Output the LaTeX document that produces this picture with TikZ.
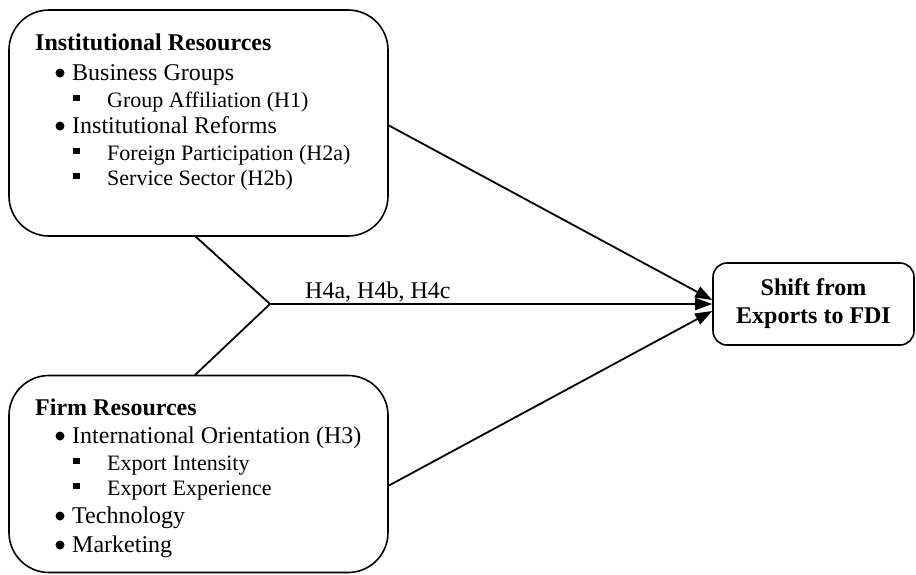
\documentclass[tikz,border=0pt]{standalone}
\usepackage{fontspec}
\setmainfont{Liberation Serif}
\usetikzlibrary{arrows.meta}
\begin{document}
\begin{tikzpicture}[x=1pt,y=-1pt,
  box/.style={draw,line width=1.6pt,rounded corners=#1,inner sep=0pt},
  conn/.style={line width=1.8pt},
  arr/.style={conn,-{Triangle[length=17pt,width=12pt]}},
  head/.style={anchor=base west,inner sep=0pt,font=\fontsize{24}{28}\selectfont\bfseries},
  item/.style={anchor=base west,inner sep=0pt,font=\fontsize{24}{28}\selectfont},
  subitem/.style={anchor=base west,inner sep=0pt,font=\fontsize{22}{26}\selectfont},
  dot/.style={circle,fill=black,inner sep=0pt,minimum size=9pt},
  sq/.style={rectangle,fill=black,inner sep=0pt,minimum size=6.5pt}]
\useasboundingbox (0,0) rectangle (916,574);
% boxes
\node[box=40pt,minimum width=379pt,minimum height=226pt] (inst) at (198.5,123) {};
\node[box=40pt,minimum width=379pt,minimum height=197pt] (firm) at (198.5,474) {};
\node[box=14pt,minimum width=201pt,minimum height=82pt,align=center,
  font=\fontsize{24}{28}\selectfont\bfseries] (shift) at (813.5,304) {Shift from\\Exports to FDI};
% institutional text
\node[head] (t0) at (35,50) {Institutional Resources};
\node[dot] (b1) at (60,73) {};
\node[item] (t1) at (72,80) {Business Groups};
\node[sq] (s1) at (76.5,98) {};
\node[subitem] (t2) at (107,107) {Group Affiliation (H1)};
\node[dot] (b2) at (60,126) {};
\node[item] (t3) at (72,133) {Institutional Reforms};
\node[sq] (s2) at (76.5,151) {};
\node[subitem] (t4) at (107,160) {Foreign Participation (H2a)};
\node[sq] (s3) at (76.5,176) {};
\node[subitem] (t5) at (107,185) {Service Sector (H2b)};
% firm text
\node[head] (f0) at (35,415) {Firm Resources};
\node[dot] (fb1) at (60,436) {};
\node[item] (f1) at (72,443) {International Orientation (H3)};
\node[sq] (fs1) at (76.5,461) {};
\node[subitem] (f2) at (107,470) {Export Intensity};
\node[sq] (fs2) at (76.5,486) {};
\node[subitem] (f3) at (107,495) {Export Experience};
\node[dot] (fb2) at (60,516) {};
\node[item] (f4) at (72,523) {Technology};
\node[dot] (fb3) at (60,545) {};
\node[item] (f5) at (72,552) {Marketing};
% connectors
\coordinate (ie) at (388,125);
\coordinate (fe) at (388,486);
\coordinate (ib) at (195,236);
\coordinate (ft) at (195,375);
\coordinate (j) at (270,304);
\draw[arr] (ie) -- ([yshift=4pt]shift.west);
\draw[arr] (fe) -- ([yshift=-7pt]shift.west);
\draw[conn] (ib) -- (j) -- (ft);
\draw[arr] (j) -- (shift.west);
\node[item] (lab) at (305,298) {H4a, H4b, H4c};
\end{tikzpicture}
\end{document}
